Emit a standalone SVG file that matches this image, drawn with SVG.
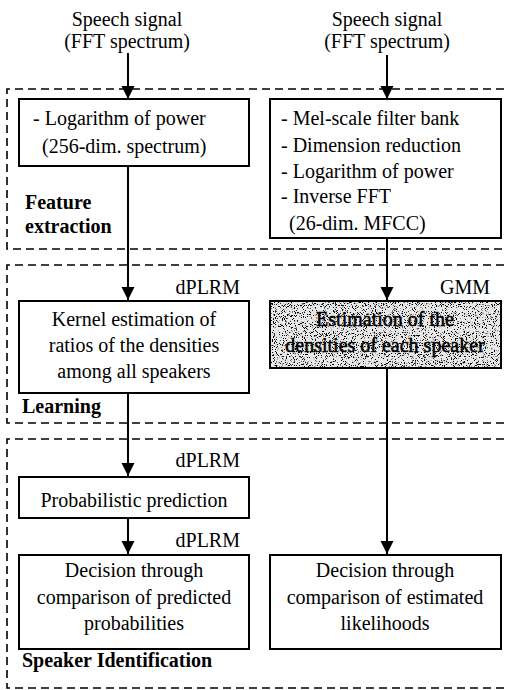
<svg xmlns="http://www.w3.org/2000/svg" width="506" height="690" viewBox="0 0 506 690">
<style>
text{font-family:"Liberation Serif","Times New Roman",serif;font-size:20px;fill:#000}
.c{text-anchor:middle}
.r{text-anchor:end}
.b{font-weight:bold;font-size:20px}
.box{fill:#fff;stroke:#000;stroke-width:2}
.region{fill:none;stroke:#000;stroke-width:1.6;stroke-dasharray:8 5}
.conn{stroke:#000;stroke-width:2;fill:none;marker-end:url(#ah)}
.heavy{stroke:#000;stroke-width:0.5}
</style>
<defs>
<marker id="ah" markerWidth="14" markerHeight="14" refX="13" refY="6.5" orient="auto" markerUnits="userSpaceOnUse">
<path d="M0,0 L13,6.5 L0,13 Z" fill="#000"/>
</marker>
<filter id="noise" x="0" y="0" width="1" height="1" color-interpolation-filters="sRGB">
<feTurbulence type="fractalNoise" baseFrequency="1.1" numOctaves="2" seed="5" result="t"/>
<feColorMatrix in="t" type="matrix" values="0 0 0 0 0  0 0 0 0 0  0 0 0 0 0  12 0 0 0 -7.0" result="n"/>
<feFlood flood-color="#e8e8e8" result="w"/>
<feComposite in="w" in2="SourceGraphic" operator="in" result="bg"/>
<feComposite in="n" in2="SourceGraphic" operator="in" result="nn"/>
<feMerge><feMergeNode in="bg"/><feMergeNode in="nn"/></feMerge>
</filter>
</defs>

<g id="regions">
<path id="region-feature" class="region" d="M504,89 H7 V249 H504"/>
<path id="region-learning" class="region" d="M504,265 H7 V423 H504"/>
<path id="region-identification" class="region" d="M504,439 H7 V688 H504"/>
<text class="b" x="25" y="209">Feature</text>
<text class="b" x="25" y="233">extraction</text>
<text class="b" x="22" y="413">Learning</text>
<text class="b" x="22" y="667">Speaker Identification</text>
</g>

<g id="connectors">
<line class="conn" x1="128" y1="53" x2="128" y2="99"/>
<line class="conn" x1="387" y1="55" x2="387" y2="99"/>
<line class="conn" x1="128" y1="166" x2="128" y2="300"/>
<line class="conn" x1="387" y1="238" x2="387" y2="300"/>
<line class="conn" x1="128" y1="393" x2="128" y2="476"/>
<line class="conn" x1="128" y1="518" x2="128" y2="554"/>
<line class="conn" x1="387" y1="368" x2="387" y2="554"/>
</g>

<g id="input-left">
<text class="c" x="127" y="26">Speech signal</text>
<text class="c" x="127" y="48">(FFT spectrum)</text>
</g>
<g id="input-right">
<text class="c" x="387" y="26">Speech signal</text>
<text class="c" x="387" y="48">(FFT spectrum)</text>
</g>

<g id="log-power">
<rect class="box" x="19" y="99" width="230" height="67"/>
<text x="33" y="125">- Logarithm of power</text>
<text x="42" y="153">(256-dim. spectrum)</text>
</g>

<g id="mfcc">
<rect class="box" x="270" y="99" width="231" height="139"/>
<text x="281" y="125">- Mel-scale filter bank</text>
<text x="281" y="152">- Dimension reduction</text>
<text x="281" y="178">- Logarithm of power</text>
<text x="281" y="203">- Inverse FFT</text>
<text x="289" y="230">(26-dim. MFCC)</text>
</g>

<g id="kernel">
<text class="r" x="240" y="294">dPLRM</text>
<rect class="box" x="19" y="301" width="230" height="92"/>
<text class="c" x="134" y="326">Kernel estimation of</text>
<text class="c" x="134" y="352">ratios of the densities</text>
<text class="c" x="134" y="378">among all speakers</text>
</g>

<g id="gmm">
<text class="r" x="490" y="294">GMM</text>
<rect x="270" y="301" width="231" height="67" fill="#fff" stroke="none" filter="url(#noise)"/>
<rect x="270" y="301" width="231" height="67" fill="none" stroke="#000" stroke-width="2"/>
<text class="c heavy" x="385" y="326">Estimation of the</text>
<text class="c heavy" x="385" y="352">densities of each speaker</text>
</g>

<g id="prediction">
<text class="r" x="240" y="467">dPLRM</text>
<rect class="box" x="19" y="477" width="230" height="41"/>
<text class="c" x="134" y="507">Probabilistic prediction</text>
</g>

<g id="decision-left">
<text class="r" x="240" y="547">dPLRM</text>
<rect class="box" x="19" y="555" width="230" height="94"/>
<text class="c" x="134" y="577">Decision through</text>
<text class="c" x="134" y="604">comparison of predicted</text>
<text class="c" x="134" y="630">probabilities</text>
</g>

<g id="decision-right">
<rect class="box" x="270" y="555" width="231" height="94"/>
<text class="c" x="385" y="577">Decision through</text>
<text class="c" x="385" y="604">comparison of estimated</text>
<text class="c" x="385" y="630">likelihoods</text>
</g>
</svg>
